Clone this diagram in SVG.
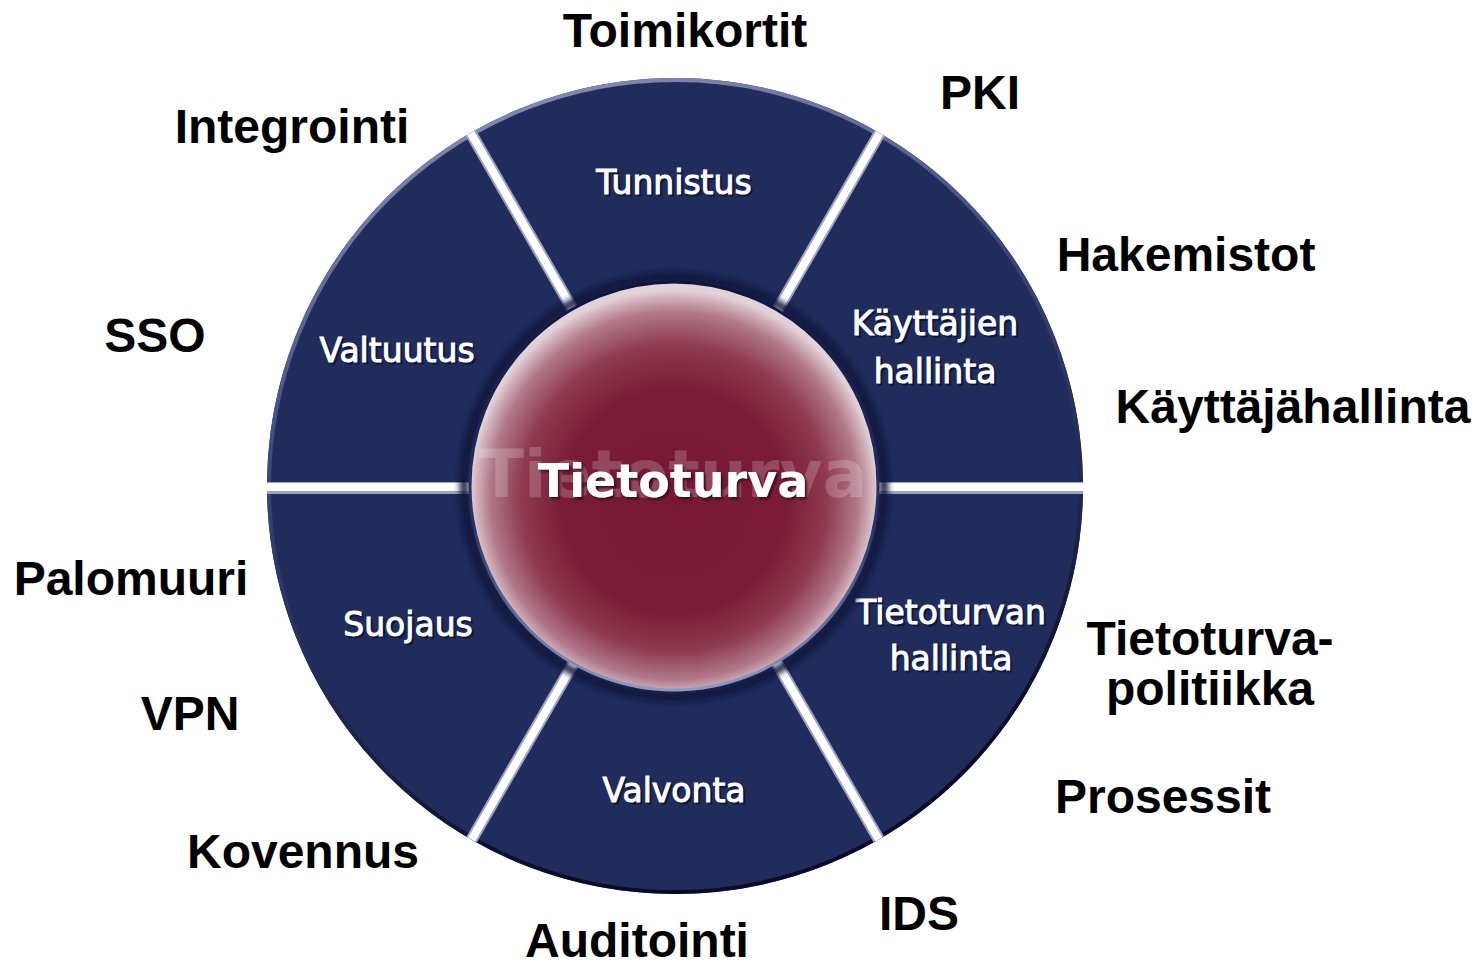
<svg xmlns="http://www.w3.org/2000/svg" width="1483" height="967" viewBox="0 0 1483 967">
<style>
.outer{font-family:"Liberation Sans",Arial,sans-serif;font-weight:bold;font-size:48px;fill:#000;text-anchor:middle}
.seg{fill:#1f2c5c}
.lbl{font-family:"DejaVu Sans",Verdana,sans-serif;font-size:33px;fill:#fff;stroke:#fff;stroke-width:1;text-anchor:middle}
.lblsh{font-family:"DejaVu Sans",Verdana,sans-serif;font-size:33px;fill:#0a1030;fill-opacity:0.7;stroke:#0a1030;stroke-opacity:0.7;stroke-width:1;text-anchor:middle}
.divEdge{stroke:#9ea3c4;stroke-width:12;fill:none}
.divCore{stroke:#ffffff;stroke-width:8;fill:none}
</style>
<defs>
<clipPath id="wheelClip"><circle cx="675" cy="486" r="408"/></clipPath>
<linearGradient id="rimGrad" x1="0" y1="0" x2="0.3" y2="1">
<stop offset="0" stop-color="#9a9fc2"/>
<stop offset="0.45" stop-color="#3a4478"/>
<stop offset="1" stop-color="#070c2a"/>
</linearGradient>
<linearGradient id="innerRim" x1="0" y1="0" x2="0" y2="1">
<stop offset="0" stop-color="#0c1440"/>
<stop offset="0.6" stop-color="#2a3468"/>
<stop offset="1" stop-color="#9298c0"/>
</linearGradient>
<radialGradient id="hub" cx="50%" cy="52%" r="50%" fx="50%" fy="56%">
<stop offset="0" stop-color="#761733"/>
<stop offset="0.55" stop-color="#7a1c37"/>
<stop offset="0.75" stop-color="#8e3a50"/>
<stop offset="0.9" stop-color="#b0788a"/>
<stop offset="0.97" stop-color="#d2b4bd"/>
<stop offset="1" stop-color="#e2d2d8"/>
</radialGradient>
<filter id="blur3" x="-10%" y="-10%" width="120%" height="120%"><feGaussianBlur stdDeviation="3"/></filter>
<filter id="txtShadow" x="-10%" y="-30%" width="120%" height="160%">
<feDropShadow dx="2" dy="2" stdDeviation="1.2" flood-color="#2a0712" flood-opacity="0.9"/>
</filter>
</defs>

<g id="seg-tunnistus">
<path class="seg" d="M675,486 L471,132.7 A408,408 0 0 1 879,132.7 Z"/>
</g>
<g id="seg-kayttajien-hallinta">
<path class="seg" d="M675,486 L879,132.7 A408,408 0 0 1 1083,486 Z"/>
</g>
<g id="seg-tietoturvan-hallinta">
<path class="seg" d="M675,486 L1083,486 A408,408 0 0 1 879,839.3 Z"/>
</g>
<g id="seg-valvonta">
<path class="seg" d="M675,486 L879,839.3 A408,408 0 0 1 471,839.3 Z"/>
</g>
<g id="seg-suojaus">
<path class="seg" d="M675,486 L471,839.3 A408,408 0 0 1 267,486 Z"/>
</g>
<g id="seg-valtuutus">
<path class="seg" d="M675,486 L267,486 A408,408 0 0 1 471,132.7 Z"/>
</g>

<g id="rim">
<circle cx="675" cy="486" r="406" fill="none" stroke="url(#rimGrad)" stroke-width="4"/>
</g>

<g id="connectors" clip-path="url(#wheelClip)">
<line class="divEdge" x1="250" y1="488" x2="1100" y2="488"/>
<line class="divEdge" x1="450" y1="97" x2="908" y2="890"/>
<line class="divEdge" x1="908" y1="84" x2="450" y2="877"/>
<line class="divCore" x1="250" y1="487" x2="1100" y2="487"/>
<line class="divCore" x1="450" y1="97" x2="908" y2="890"/>
<line class="divCore" x1="908" y1="84" x2="450" y2="877"/>
</g>

<g id="segment-labels">
<text class="lblsh" x="676" y="196">Tunnistus</text>
<text class="lbl" x="674" y="194">Tunnistus</text>
<text class="lblsh" x="399" y="364">Valtuutus</text>
<text class="lbl" x="397" y="362">Valtuutus</text>
<text class="lblsh" x="937" y="337">Käyttäjien</text>
<text class="lbl" x="935" y="335">Käyttäjien</text>
<text class="lblsh" x="937" y="385">hallinta</text>
<text class="lbl" x="935" y="383">hallinta</text>
<text class="lblsh" x="410" y="638">Suojaus</text>
<text class="lbl" x="408" y="636">Suojaus</text>
<text class="lblsh" x="953" y="626">Tietoturvan</text>
<text class="lbl" x="951" y="624">Tietoturvan</text>
<text class="lblsh" x="953" y="672">hallinta</text>
<text class="lbl" x="951" y="670">hallinta</text>
<text class="lblsh" x="676" y="804">Valvonta</text>
<text class="lbl" x="674" y="802">Valvonta</text>
</g>

<g id="hub-node">
<circle cx="674" cy="487" r="210" fill="none" stroke="#0a1238" stroke-width="8" filter="url(#blur3)"/>
<circle cx="674" cy="486" r="204" fill="url(#hub)"/>
<circle cx="674" cy="486" r="204" fill="none" stroke="url(#innerRim)" stroke-width="3"/>
<text x="673" y="497" font-family="DejaVu Sans, Verdana, sans-serif" font-weight="bold" font-size="66" fill="#ffffff" fill-opacity="0.2" text-anchor="middle">Tietoturva</text>
<text x="673" y="497" font-family="DejaVu Sans, Verdana, sans-serif" font-weight="bold" font-size="46" fill="#ffffff" text-anchor="middle" filter="url(#txtShadow)">Tietoturva</text>
</g>

<g id="outer-labels">
<text class="outer" x="685" y="47">Toimikortit</text>
<text class="outer" x="292" y="143">Integrointi</text>
<text class="outer" x="980" y="109">PKI</text>
<text class="outer" x="1186" y="271">Hakemistot</text>
<text class="outer" x="1293" y="423">Käyttäjähallinta</text>
<text class="outer" x="155" y="352">SSO</text>
<text class="outer" x="131" y="595">Palomuuri</text>
<text class="outer" x="190" y="730">VPN</text>
<text class="outer" x="1210" y="655">Tietoturva-</text>
<text class="outer" x="1210" y="705">politiikka</text>
<text class="outer" x="1163" y="813">Prosessit</text>
<text class="outer" x="303" y="868">Kovennus</text>
<text class="outer" x="637" y="957">Auditointi</text>
<text class="outer" x="919" y="930">IDS</text>
</g>
</svg>
